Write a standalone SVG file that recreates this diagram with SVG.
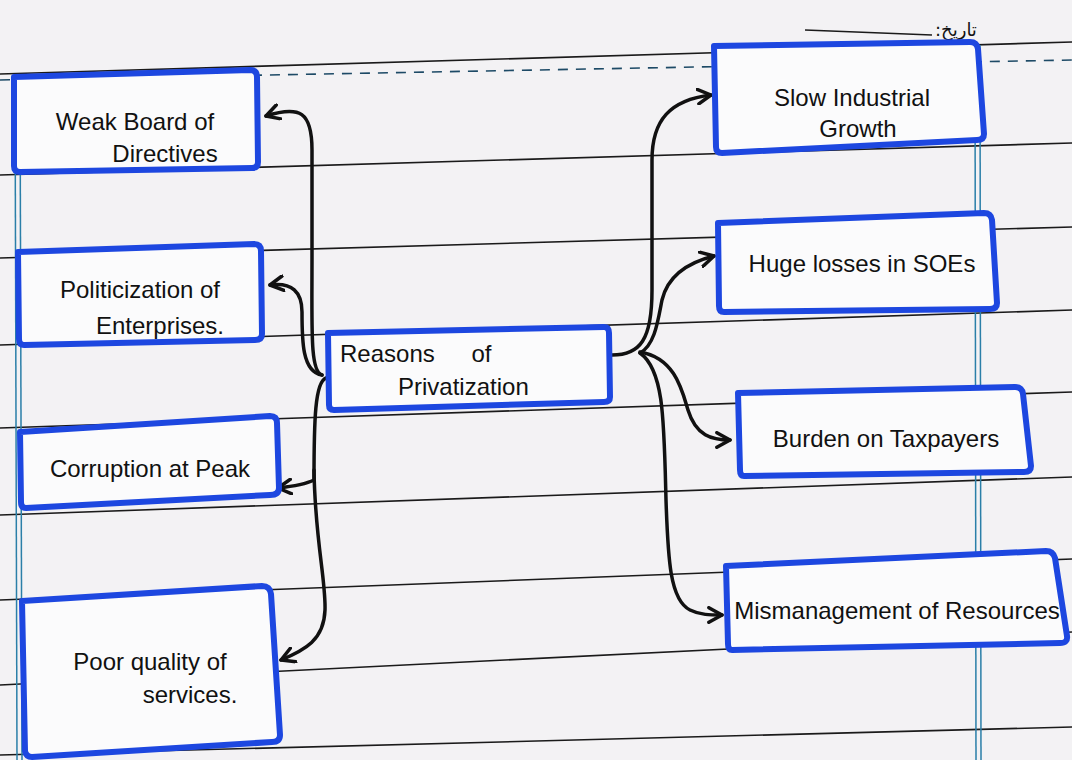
<svg xmlns="http://www.w3.org/2000/svg" width="1072" height="760" viewBox="0 0 1072 760">
<style>
.paper{fill:#f3f2f4}
.rule{stroke:#1a1a1a;stroke-width:1.6;fill:none}
.margin{stroke:#2a7fa8;stroke-width:1.5;fill:none}
.box{fill:#fbfbfc;stroke:#1d47e0;stroke-width:6;stroke-linejoin:round}
.t{font-family:"Liberation Sans","DejaVu Sans",sans-serif;fill:#111;font-size:24px}
.c{text-anchor:middle}
.edge{stroke:#111;stroke-width:3.5;fill:none;stroke-linecap:round;marker-end:url(#ah)}
</style>
<defs>
<marker id="ah" viewBox="0 0 12 12" refX="10" refY="6" markerWidth="5" markerHeight="5" orient="auto" markerUnits="strokeWidth">
<path d="M1,1 L10,6 L1,11" fill="none" stroke="#111" stroke-width="2.4" stroke-linecap="round" stroke-linejoin="round"/>
</marker>
</defs>
<rect class="paper" x="0" y="0" width="1072" height="760"/>
<g id="page-lines">
<line class="rule" x1="0" y1="74" x2="1072" y2="42"/>
<line class="rule" x1="0" y1="80" x2="1072" y2="60" stroke-dasharray="10 8" style="stroke:#1d4a66"/>
<line class="rule" x1="0" y1="175" x2="1072" y2="143"/>
<line class="rule" x1="0" y1="258" x2="1072" y2="227"/>
<line class="rule" x1="0" y1="345" x2="1072" y2="310"/>
<line class="rule" x1="0" y1="428" x2="1072" y2="392"/>
<line class="rule" x1="0" y1="515" x2="1072" y2="477"/>
<line class="rule" x1="0" y1="600" x2="1072" y2="559"/>
<line class="rule" x1="0" y1="685" x2="1072" y2="632"/>
<line class="rule" x1="0" y1="755" x2="1072" y2="727"/>
<line class="margin" x1="15" y1="74" x2="17" y2="760"/>
<line class="margin" x1="20" y1="74" x2="22" y2="760"/>
<line class="margin" x1="975" y1="45" x2="976" y2="760"/>
<line class="margin" x1="980" y1="45" x2="981" y2="760"/>
<line class="rule" x1="805" y1="30" x2="932" y2="35"/>
<text x="935" y="36" font-family="'DejaVu Sans',sans-serif" font-size="18" text-anchor="end" fill="#111" direction="rtl">تاریخ:</text>
</g>
<g id="connectors">
<path class="edge" d="M322,375 C310,372 312,330 312,260 L312,150 C312,112 300,105 266,116"/>
<path class="edge" d="M322,375 C302,372 302,340 302,312 C302,292 292,282 270,285"/>
<path class="edge" d="M326,378 C315,382 314,420 314,480 C306,484 296,486 278,488"/>
<path class="edge" d="M314,470 C315,540 326,580 325,610 C324,640 305,650 281,660"/>
<path class="edge" d="M612,355 C640,355 652,340 652,290 L652,160 C652,120 670,100 711,95"/>
<path class="edge" d="M640,353 C655,345 658,320 662,300 C668,275 690,262 714,256"/>
<path class="edge" d="M640,352 C675,358 682,390 688,410 C696,436 712,440 730,440"/>
<path class="edge" d="M640,353 C664,370 664,420 666,500 C668,560 670,600 690,610 C700,615 710,615 722,615"/>
</g>
<g id="node-weak-board">
<path class="box" d="M14,77 L250,70 Q257,70 257,77 L258,162 Q258,168 252,168 L20,172 Q14,172 14,166 Z"/>
<text class="t c" x="135" y="130" font-size="26">Weak Board of</text>
<text class="t c" x="165" y="162" font-size="21">Directives</text>
</g>
<g id="node-politicization">
<path class="box" d="M18,252 L254,244 Q261,244 261,251 L262,334 Q262,340 255,340 L24,345 Q19,345 19,339 Z"/>
<text class="t c" x="140" y="298" font-size="24">Politicization of</text>
<text class="t c" x="160" y="334" font-size="19">Enterprises.</text>
</g>
<g id="node-corruption">
<path class="box" d="M20,432 L270,416 Q277,416 277,423 L279,488 Q279,495 270,495 L26,508 Q21,508 21,502 Z"/>
<text class="t c" x="150" y="477" font-size="21">Corruption at Peak</text>
</g>
<g id="node-poor-quality">
<path class="box" d="M22,601 L262,586 Q270,586 271,594 L280,735 Q280,742 272,742 L32,757 Q26,757 25,751 Z"/>
<text class="t c" x="150" y="670" font-size="25">Poor quality of</text>
<text class="t c" x="190" y="703" font-size="19">services.</text>
</g>
<g id="node-reasons">
<path class="box" d="M328,333 L604,327 Q609,327 609,333 L610,397 Q610,402 604,402 L334,410 Q329,410 329,405 Z"/>
<text class="t" x="340" y="362" font-size="27" word-spacing="30">Reasons of</text>
<text class="t" x="398" y="395" font-size="27">Privatization</text>
</g>
<g id="node-slow-growth">
<path class="box" d="M714,46 L970,42 Q977,42 978,49 L984,134 Q984,140 977,140 L722,153 Q716,153 716,147 Z"/>
<text class="t c" x="852" y="106" font-size="29">Slow Industrial</text>
<text class="t c" x="858" y="137" font-size="18">Growth</text>
</g>
<g id="node-huge-losses">
<path class="box" d="M718,223 L984,213 Q991,213 992,220 L997,303 Q997,309 990,309 L724,312 Q719,312 719,306 Z"/>
<text class="t c" x="862" y="272" font-size="25">Huge losses in SOEs</text>
</g>
<g id="node-burden">
<path class="box" d="M738,393 L1015,387 Q1022,387 1023,394 L1031,466 Q1031,472 1024,472 L744,476 Q740,476 740,470 Z"/>
<text class="t c" x="886" y="447" font-size="26">Burden on Taxpayers</text>
</g>
<g id="node-mismanagement">
<path class="box" d="M726,566 L1046,551 Q1053,551 1055,558 L1067,636 Q1068,643 1060,643 L732,650 Q728,650 728,644 Z"/>
<text class="t c" x="897" y="619" font-size="21">Mismanagement of Resources</text>
</g>
</svg>
